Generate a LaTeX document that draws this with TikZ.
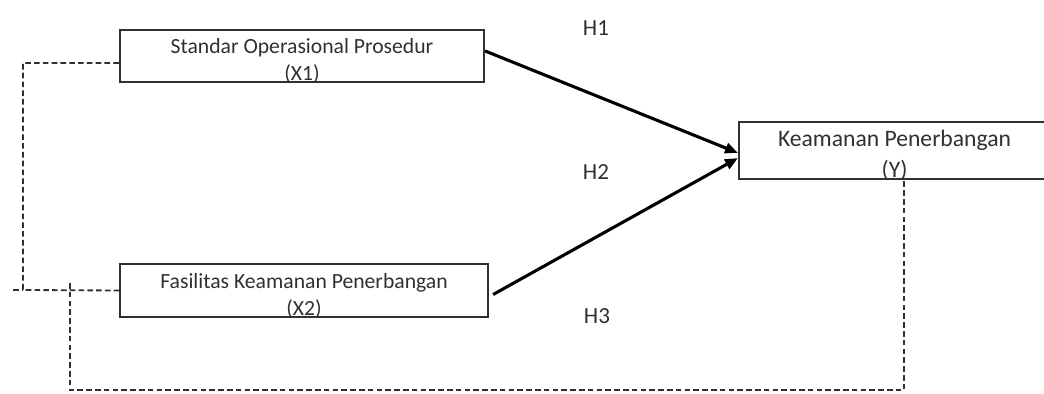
\documentclass[tikz,border=0pt]{standalone}
\usepackage{fontspec}
\setmainfont{Carlito}
\usetikzlibrary{arrows.meta}
\definecolor{ink}{HTML}{303030}
\begin{document}
\begin{tikzpicture}[
    var/.style={draw=ink, line width=1.6pt, text=ink, align=center, inner sep=0pt,
        text depth=0pt, minimum height=1.3cm, font=\fontsize{15.4}{19.2}\selectfont},
    hyp/.style={text=ink, font=\fontsize{16.4}{20}\selectfont},
    path/.style={line width=2.2pt, -{Triangle[length=0.32cm,width=0.26cm]}},
    link/.style={draw=ink, line width=1.3pt, dash pattern=on 0.14cm off 0.08cm}
]
\useasboundingbox (0,0) rectangle (26.1,9.85);
% Variabel
\node[var, minimum width=9.1cm, text height=34.2pt] (x1) at (7.55,8.45) {Standar Operasional Prosedur\\(X1)};
\node[var, minimum width=9.2cm, minimum height=1.325cm, text height=34.9pt] (x2) at (7.6,2.5875) {Fasilitas Keamanan Penerbangan\\(X2)};
\node[var, minimum width=7.775cm, minimum height=1.425cm, text height=38.5pt,
      font=\fontsize{16.8}{22}\selectfont] (y) at (22.3625,6.0875) {Keamanan Penerbangan\\(Y)};

% Hipotesis
\node[hyp] (h1) at (14.9,9.15) {H1};
\node[hyp] (h2) at (14.9,5.55) {H2};
\node[hyp] (h3) at (14.925,1.95) {H3};

\draw[path] ([yshift=0.125cm]x1.east) -- ([yshift=-0.06cm]y.west);
\draw[path] ([shift={(0.1,-0.1)}]x2.east) -- ([yshift=-0.19cm]y.west);

% Garis putus-putus
\coordinate (lt) at (0.575,8.275);
\coordinate (lb) at (0.575,2.6);
\coordinate (ls) at (0.325,2.6);
\coordinate (bt) at (1.75,2.775);
\coordinate (bl) at (1.75,0.1);
\coordinate (br) at (22.6,0.1);

\draw[link] ([yshift=-0.175cm]x1.west) -- (lt) -- (lb) -- (x2.west);
\draw[link] (ls) -- (lb);
\draw[link] (bt) -- (bl) -- (br) -- (br |- y.south);
\end{tikzpicture}
\end{document}
